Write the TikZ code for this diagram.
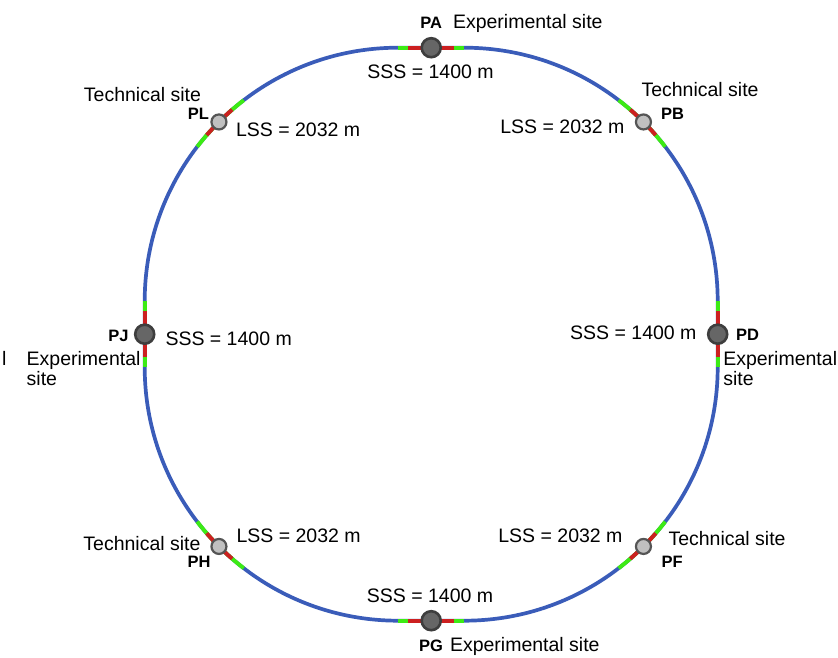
\documentclass[tikz,border=0pt]{standalone}
\usepackage{fontspec}
\setmainfont{Liberation Sans}
\tikzset{
  track/.style={draw=trackColor,line width=3.7pt,line join=round},
  greenseg/.style={draw=greenColor,line width=3.9pt},
  redseg/.style={draw=redColor,line width=3.9pt},
  expsite/.style={circle,fill=expFill,draw=expDraw,line width=2.6pt,minimum size=19pt,inner sep=0pt},
  techsite/.style={circle,fill=techFill,draw=techDraw,line width=2.2pt,minimum size=15pt,inner sep=0pt},
  lbl/.style={inner sep=0pt,outer sep=0pt,font=\fontsize{19.5}{23}\selectfont},
  stn/.style={inner sep=0pt,outer sep=0pt,font=\fontsize{16.5}{20}\selectfont\bfseries}
}
\begin{document}
\begin{tikzpicture}[x=1pt,y=1pt]
\definecolor{trackColor}{RGB}{58,92,185}
\definecolor{greenColor}{RGB}{60,235,20}
\definecolor{redColor}{RGB}{204,32,32}
\definecolor{expFill}{RGB}{102,102,102}
\definecolor{expDraw}{RGB}{62,62,62}
\definecolor{techFill}{RGB}{192,192,192}
\definecolor{techDraw}{RGB}{85,85,85}
\path[use as bounding box,fill=white] (0,0) rectangle (838,657);

\begin{scope}[shift={(431.2,322.8)}]
% ring: four quarter arcs joined by short straights on the axes
\draw[track] (33,286.5) -- (-33,286.5)
  arc[start angle=90,end angle=180,radius=253.5] -- (-286.5,-33)
  arc[start angle=180,end angle=270,radius=253.5] -- (33,-286.5)
  arc[start angle=270,end angle=360,radius=253.5] -- (286.5,33)
  arc[start angle=0,end angle=90,radius=253.5] -- cycle;

% experimental sites (on the straights)
\foreach \name/\px/\py/\ang in {PA/0/286.5/0, PD/286.5/0/90, PG/0/-286.5/0, PJ/-286.5/0/90} {
  \draw[greenseg] (\px,\py) ++(\ang:-33) -- ++(\ang:66);
  \draw[redseg] (\px,\py) ++(\ang:-23) -- ++(\ang:46);
  \node[expsite] (\name) at (\px,\py) {};
}

% technical sites (in the middle of the arcs)
\foreach \name/\sx/\sy/\phi in {PB/1/1/45, PF/1/-1/-45, PH/-1/-1/225, PL/-1/1/135} {
  \draw[greenseg] (\sx*33,\sy*33) ++(\phi-7.46:253.5) arc[start angle=\phi-7.46,delta angle=14.92,radius=253.5];
  \draw[redseg] (\sx*33,\sy*33) ++(\phi-4.07:253.5) arc[start angle=\phi-4.07,delta angle=8.14,radius=253.5];
  \node[techsite] (\name) at (\sx*212.25,\sy*212.25) {};
}
\end{scope}

% top
\node[stn,anchor=base] (nPA) at (431.2,628.5) {PA};
\node[lbl,anchor=base west] (sPA) at (453,628) {Experimental site};
\node[lbl,anchor=base] (lPA) at (430.5,578) {SSS = 1400 m};

% upper left
\node[lbl,anchor=base east] (sPL) at (201,555) {Technical site};
\node[stn,anchor=base east] (nPL) at (209,537) {PL};
\node[lbl,anchor=base west] (lPL) at (236,520) {LSS = 2032 m};

% upper right
\node[lbl,anchor=base west] (sPB) at (641.5,560) {Technical site};
\node[stn,anchor=base west] (nPB) at (661,537) {PB};
\node[lbl,anchor=base east] (lPB) at (624.5,523) {LSS = 2032 m};

% left
\node[stn,anchor=base east] (nPJ) at (128.5,315.3) {PJ};
\node[lbl,anchor=base west] (lPJ) at (165.5,312) {SSS = 1400 m};
\node[lbl,anchor=base west] (sPJ) at (26.7,292) {Experimental};
\node[lbl,anchor=base west] (sPJb) at (26.7,271.5) {site};
\node[lbl,anchor=base east] (sX) at (6.5,292) {l};

% right
\node[lbl,anchor=base east] (lPD) at (696.5,317) {SSS = 1400 m};
\node[stn,anchor=base west] (nPD) at (736,316.3) {PD};
\node[lbl,anchor=base west] (sPD) at (723.3,292) {Experimental};
\node[lbl,anchor=base west] (sPDb) at (723.3,271.5) {site};

% lower left
\node[lbl,anchor=base east] (sPH) at (200.5,107) {Technical site};
\node[stn,anchor=base] (nPH) at (199,90) {PH};
\node[lbl,anchor=base west] (lPH) at (236.5,115) {LSS = 2032 m};

% lower right
\node[lbl,anchor=base east] (lPF) at (622.5,115) {LSS = 2032 m};
\node[lbl,anchor=base west] (sPF) at (668.5,112) {Technical site};
\node[stn,anchor=base west] (nPF) at (661.5,90) {PF};

% bottom
\node[lbl,anchor=base] (lPG) at (430,55) {SSS = 1400 m};
\node[stn,anchor=base] (nPG) at (431,6) {PG};
\node[lbl,anchor=base west] (sPG) at (450,6) {Experimental site};
\end{tikzpicture}
\end{document}
